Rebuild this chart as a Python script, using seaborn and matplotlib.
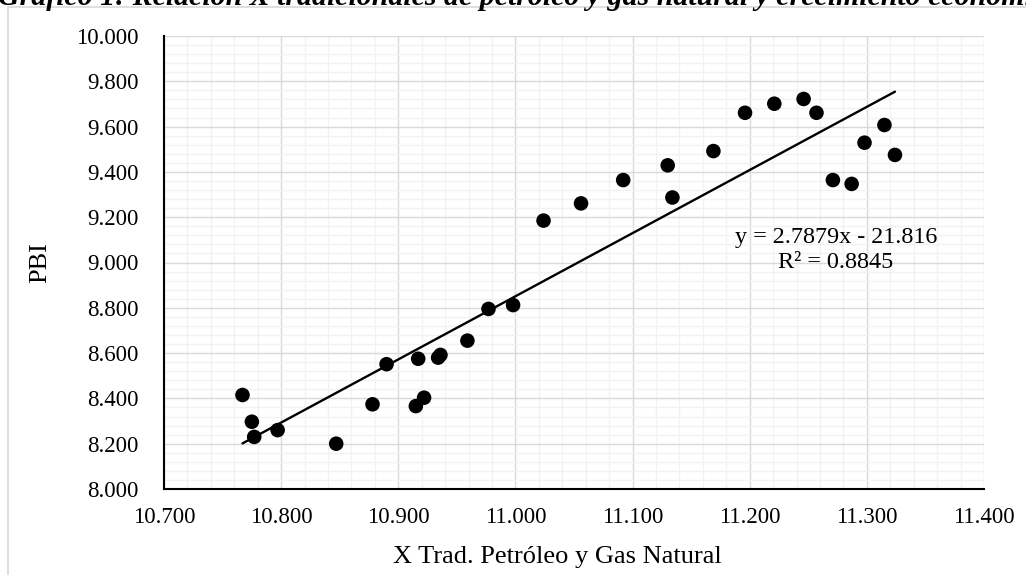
import matplotlib
matplotlib.use("Agg")
import matplotlib.pyplot as plt
from matplotlib.patches import Rectangle
from matplotlib.ticker import MultipleLocator, FuncFormatter
import numpy as np
import pandas as pd
import seaborn as sns

# Exportaciones tradicionales de petróleo y gas natural (eje X) y PBI (eje Y)
x_trad = [10.767, 10.775, 10.777, 10.797, 10.847, 10.878, 10.890, 10.917,
          10.915, 10.922, 10.934, 10.936, 10.959, 10.977, 10.998, 11.024,
          11.056, 11.092, 11.130, 11.134, 11.169, 11.196, 11.221, 11.246,
          11.257, 11.271, 11.287, 11.298, 11.315, 11.324]
pbi = [8.415, 8.297, 8.230, 8.260, 8.200, 8.374, 8.551, 8.575,
       8.366, 8.403, 8.580, 8.592, 8.655, 8.795, 8.812, 9.185,
       9.261, 9.364, 9.429, 9.287, 9.492, 9.661, 9.701, 9.722,
       9.661, 9.364, 9.347, 9.529, 9.607, 9.475]

# Línea de tendencia lineal
slope = 2.7879
intercept = -21.816
r_squared = 0.8845

x_ticks = [10.7, 10.8, 10.9, 11.0, 11.1, 11.2, 11.3, 11.4]
y_ticks = [8.0, 8.2, 8.4, 8.6, 8.8, 9.0, 9.2, 9.4, 9.6, 9.8, 10.0]

title = "Gráfico 1: Relación X tradicionales de petróleo y gas natural y crecimiento económico"
x_label = "X Trad. Petróleo y Gas Natural"
y_label = "PBI"

sns.set_theme(style="white")
plt.rcParams["font.family"] = ["Liberation Serif", "DejaVu Serif"]
plt.rcParams["text.color"] = "black"
plt.rcParams["axes.labelcolor"] = "black"
plt.rcParams["xtick.color"] = "black"
plt.rcParams["ytick.color"] = "black"

fig = plt.figure(figsize=(10.26, 5.75), dpi=100)
W, H = 1026, 575
left, right, top, bottom = 164, 984, 36, 489
ax = fig.add_axes([left / W, 1 - bottom / H, (right - left) / W, (bottom - top) / H])

df = pd.DataFrame({"x": x_trad, "y": pbi})
trend_x = np.array([min(x_trad), max(x_trad)])
trend = pd.DataFrame({"x": trend_x, "y": slope * trend_x + intercept})

sns.lineplot(data=trend, x="x", y="y", color="black", linewidth=1.7, ax=ax, zorder=3)
sns.scatterplot(data=df, x="x", y="y", color="black", s=110, edgecolor="none",
                ax=ax, zorder=4)

ax.set_xlim(x_ticks[0], x_ticks[-1])
ax.set_ylim(y_ticks[0], y_ticks[-1])
ax.set_xticks(x_ticks)
ax.set_yticks(y_ticks)
ax.xaxis.set_minor_locator(MultipleLocator(0.02))
ax.yaxis.set_minor_locator(MultipleLocator(0.04))
fmt = FuncFormatter(lambda v, _: f"{v:.3f}")
ax.xaxis.set_major_formatter(fmt)
ax.yaxis.set_major_formatter(fmt)

ax.set_axisbelow(True)
ax.grid(which="major", color="#d9d9d9", linewidth=1.0)
ax.grid(which="minor", color="#f2f2f2", linewidth=1.0)

for side in ("top", "right"):
    ax.spines[side].set_visible(False)
for side in ("left", "bottom"):
    ax.spines[side].set_color("black")
    ax.spines[side].set_linewidth(1.5)

ax.tick_params(axis="both", which="both", length=0, labelsize=16.5)
ax.tick_params(axis="x", pad=13)
ax.tick_params(axis="y", pad=18.5)

ax.set_xlabel(x_label, fontsize=19)
ax.set_ylabel(y_label, fontsize=19)
ax.xaxis.set_label_coords((557 - left) / (right - left), (bottom - 557) / (bottom - top))
ax.xaxis.label.set_va("center")
ax.yaxis.set_label_coords((40 - left) / (right - left), 0.5)
ax.yaxis.label.set_va("center")

ax.text(11.2735, 9.056, f"y = {slope:.4f}x - {abs(intercept):.3f}\nR² = {r_squared:.4f}",
        ha="center", va="center", fontsize=17.4, linespacing=1.25, zorder=5)

# Marco del gráfico
fig.patches.append(Rectangle((8 / W, -0.1), 1.2, 1 - 7 / H + 0.1, transform=fig.transFigure,
                             fill=False, edgecolor="#d9d9d9", linewidth=1.2))

fig.text(530 / W, 1 - 5 / H, title, ha="center", va="baseline", fontsize=21.5,
         fontweight="bold", fontstyle="italic")

fig.savefig("out.png", dpi=100, facecolor="white")
